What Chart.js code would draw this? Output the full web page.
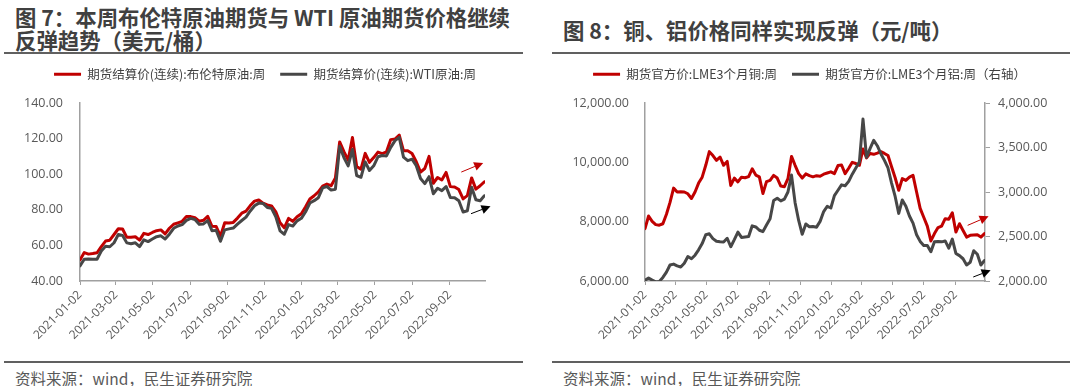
<!DOCTYPE html>
<html><head><meta charset="utf-8">
<script src="https://cdn.jsdelivr.net/npm/chart.js@4.4.1/dist/chart.umd.min.js"></script>
<style>
body{margin:0;width:1080px;height:386px;background:#fff;position:relative;overflow:hidden;font-family:"Noto Sans CJK SC",sans-serif;}
.title{position:absolute;font-weight:bold;font-size:21.4px;line-height:23px;color:#404040;white-space:nowrap;}
.rule{position:absolute;height:2px;background:#606060;}
.src{position:absolute;font-size:15.5px;line-height:22px;color:#595959;white-space:nowrap;}
.cw{position:absolute;top:53px;width:540px;height:300px;}
</style></head><body>
<div class="title" style="left:15px;top:5px">图 7：本周布伦特原油期货与 WTI 原油期货价格继续<br>反弹趋势（美元/桶）</div>
<div class="title" style="left:563px;top:18px">图 8：铜、铝价格同样实现反弹（元/吨）</div>
<div class="rule" style="left:4px;top:52px;width:519px"></div>
<div class="rule" style="left:552px;top:52px;width:518px"></div>
<div class="rule" style="left:4px;top:361px;width:519px"></div>
<div class="rule" style="left:552px;top:361px;width:518px"></div>
<div class="src" style="left:15px;top:367px">资料来源：wind，民生证券研究院</div>
<div class="src" style="left:563px;top:367px">资料来源：wind，民生证券研究院</div>
<div class="cw" style="left:0"><canvas id="c1"></canvas></div>
<div class="cw" style="left:540px"><canvas id="c2"></canvas></div>
<script>
// ---------- data ----------
const startDate = '2021-01-02';
const axisEnd = '2022-10-30';
const tickLabels = ['2021-01-02','2021-03-02','2021-05-02','2021-07-02','2021-09-02','2021-11-02',
  '2022-01-02','2022-03-02','2022-05-02','2022-07-02','2022-09-02'];

const brentLabel = '期货结算价(连续):布伦特原油:周';
const wtiLabel = '期货结算价(连续):WTI原油:周';
const copperLabel = '期货官方价:LME3个月铜:周';
const aluLabel = '期货官方价:LME3个月铝:周（右轴）';

const brent = [51.80,55.99,55.10,55.41,55.88,59.34,62.43,62.91,66.13,69.36,
  69.22,64.53,64.57,64.86,62.95,66.77,66.11,67.25,68.28,68.71,
  66.44,69.63,71.89,72.69,73.51,76.18,76.17,75.55,73.59,74.10,
  76.33,70.70,70.59,65.18,72.70,72.61,72.92,75.34,78.09,79.28,
  82.39,84.86,85.53,83.72,82.74,82.17,78.89,72.72,69.88,75.15,
  73.52,76.14,77.78,81.75,86.06,87.89,90.03,93.27,94.44,93.54,
  97.93,118.11,112.67,107.93,120.65,104.39,102.78,111.70,106.65,109.34,
  112.39,111.55,112.55,119.43,119.72,122.01,113.12,113.12,111.63,107.02,
  101.16,103.20,110.01,94.92,98.15,96.72,100.99,93.02,92.84,91.35,
  86.15,87.96,97.92,91.63,93.50,95.77];
const wti = [48.52,52.24,52.36,52.27,52.20,56.85,59.47,59.24,61.50,66.09,
  65.61,61.42,60.97,61.45,59.32,63.13,62.14,63.58,64.90,65.37,
  63.58,66.32,69.62,70.91,71.64,74.05,75.16,74.56,71.81,72.07,
  73.95,68.28,68.44,62.32,68.74,69.29,69.72,71.97,73.98,75.88,
  79.35,82.28,83.76,83.57,81.27,80.79,76.10,68.15,66.26,71.67,
  70.86,73.79,75.21,78.90,83.82,85.14,86.82,92.31,93.10,91.07,
  91.59,115.68,109.33,104.70,113.90,99.27,98.26,106.95,102.07,104.69,
  109.77,110.49,110.28,115.07,118.87,120.67,109.56,107.62,108.43,104.79,
  97.59,94.70,98.62,89.01,92.09,90.77,93.06,86.87,86.79,85.11,
  78.74,79.49,92.64,85.61,85.05,87.90];
const copper = [7764,8190,8010,7900,7880,7930,8250,8650,9130,9000,
  9010,9000,8940,8780,9000,9300,9500,9900,10360,10230,
  10065,10180,9900,10030,9220,9470,9340,9500,9480,9520,
  9780,9570,9510,8950,9350,9390,9560,9470,9200,9180,
  9450,10200,9900,9620,9470,9610,9550,9510,9550,9530,
  9600,9640,9680,9620,9890,9910,9620,9800,10000,9960,
  9900,10450,10150,10300,10270,10310,10360,10300,10230,9850,
  9480,9060,9450,9390,9500,9560,9000,8450,8150,7850,
  7350,7600,7800,7850,8100,8080,8300,7650,7930,7700,
  7480,7540,7550,7560,7480,7600];
const aluminium = [2008,2034,2010,1990,1995,2040,2100,2180,2190,2170,
  2158,2200,2275,2250,2290,2350,2420,2520,2530,2476,
  2446,2440,2438,2480,2385,2465,2550,2490,2495,2500,
  2620,2607,2570,2555,2630,2700,2905,2930,2900,2920,
  3000,3190,2880,2680,2525,2640,2610,2612,2605,2670,
  2780,2840,2820,2960,3020,3080,3070,3120,3200,3270,
  3340,3820,3390,3490,3580,3520,3430,3355,3270,3100,
  2950,2760,2910,2840,2730,2650,2520,2445,2400,2400,
  2330,2440,2445,2440,2450,2370,2470,2310,2285,2250,
  2180,2210,2340,2300,2180,2230];

// annotation arrows (data units: [day, value])
const oilArrows = [
  {from:[627,101.2], to:[663,106.3], color:'#C00000'},
  {from:[643,77.8], to:[675,82.0], color:'#000000'}];
const metalArrows = [
  {from:[632,7876], to:[673,8180], color:'#C00000'},
  {from:[643,6135], to:[677,6360], color:'#000000'}];

// ---------- helpers ----------
const dayOf = s => Math.round((Date.parse(s) - Date.parse(startDate)) / 86400000);
const tickDays = tickLabels.map(dayOf);
const maxDay = dayOf(axisEnd);
const pts = arr => arr.map((v, i) => ({x: i * 7, y: v}));

const RED = '#C00000', GREY = '#474747', AXIS = '#A0A0A0', TXT = '#595959';
const NUMFONT = '"Open Sans", "Noto Sans", sans-serif';
const CJK = '"Noto Sans CJK SC", sans-serif';

const fmt2 = v => v.toLocaleString('en-US', {minimumFractionDigits: 2, maximumFractionDigits: 2});

function arrowPlugin(arrows, yId) {
  return {
    id: 'arrows',
    afterDatasetsDraw(chart) {
      const {ctx, scales} = chart;
      ctx.save();
      arrows.forEach(a => {
        const x1 = scales.x.getPixelForValue(a.from[0]), y1 = scales[yId].getPixelForValue(a.from[1]);
        const x2 = scales.x.getPixelForValue(a.to[0]), y2 = scales[yId].getPixelForValue(a.to[1]);
        const ang = Math.atan2(y2 - y1, x2 - x1), L = 9, W = 4.5;
        const bx = x2 - L * Math.cos(ang), by = y2 - L * Math.sin(ang);
        ctx.strokeStyle = a.color; ctx.fillStyle = a.color; ctx.lineWidth = 1;
        ctx.beginPath(); ctx.moveTo(x1, y1); ctx.lineTo(bx, by); ctx.stroke();
        ctx.beginPath(); ctx.moveTo(x2, y2);
        ctx.lineTo(bx + W * Math.sin(ang), by - W * Math.cos(ang));
        ctx.lineTo(bx - W * Math.sin(ang), by + W * Math.cos(ang));
        ctx.closePath(); ctx.fill();
      });
      ctx.restore();
    }
  };
}
const legendSpacer = extra => ({
  id: 'legendSpacer',
  beforeInit(chart) {
    const orig = chart.legend.fit;
    chart.legend.fit = function () { orig.bind(chart.legend)(); this.height += extra; };
  }
});

function xAxis() {
  return {
    type: 'linear', min: 0, max: maxDay,
    afterBuildTicks: s => { s.ticks = tickDays.map(v => ({value: v})); },
    afterFit: s => { s.height = 72; },
    grid: {display: true, drawOnChartArea: false, drawTicks: true, tickLength: 4, color: AXIS, lineWidth: 1},
    border: {display: true, color: AXIS, width: 1.5},
    ticks: {autoSkip: false, minRotation: 45, maxRotation: 45, padding: 3, color: TXT,
      font: {family: NUMFONT, size: 12}, callback: (v, i) => tickLabels[i]}
  };
}
function legendOpts() {
  return {
    position: 'top',
    labels: {
      boxWidth: 27, boxHeight: 3, padding: 15, color: '#404040',
      font: {family: CJK, size: 12.5},
      generateLabels: chart => chart.data.datasets.map((d, i) => ({
        text: d.label, fillStyle: d.borderColor, strokeStyle: d.borderColor,
        lineWidth: 0, hidden: false, datasetIndex: i, fontColor: '#404040'}))
    }
  };
}
const lineDs = (label, data, color, extra) => Object.assign({
  label, data: pts(data), borderColor: color, backgroundColor: color, borderWidth: 3,
  pointRadius: 0, fill: false, tension: 0, borderJoinStyle: 'round', borderCapStyle: 'round'
}, extra || {});

// ---------- chart 1 ----------
new Chart(document.getElementById('c1'), {
  type: 'line',
  data: {datasets: [
    lineDs(brentLabel, brent, RED, {order: 1}),
    lineDs(wtiLabel, wti, GREY, {order: 0})
  ]},
  options: {
    responsive: true, maintainAspectRatio: false, animation: false,
    layout: {padding: {top: 0, left: 0, right: 10, bottom: 0}},
    plugins: {legend: legendOpts(), tooltip: {enabled: false}},
    scales: {
      x: xAxis(),
      y: {min: 40, max: 140, afterFit: s => { s.width = 80; },
        grid: {display: false, drawTicks: false}, border: {display: true, color: AXIS, width: 1.5},
        ticks: {stepSize: 20, padding: 17, color: TXT, font: {family: NUMFONT, size: 12.5}, callback: v => fmt2(v)}},
      yR: {position: 'right', display: true, afterFit: s => { s.width = 45; },
        grid: {display: false, drawTicks: false}, border: {display: false}, ticks: {display: false}}
    }
  },
  plugins: [legendSpacer(12.5), arrowPlugin(oilArrows, 'y')]
});

// ---------- chart 2 ----------
new Chart(document.getElementById('c2'), {
  type: 'line',
  data: {datasets: [
    lineDs(copperLabel, copper, RED, {order: 1, yAxisID: 'y'}),
    lineDs(aluLabel, aluminium, GREY, {order: 0, yAxisID: 'y1'})
  ]},
  options: {
    responsive: true, maintainAspectRatio: false, animation: false,
    layout: {padding: {top: 0, left: 0, right: 1, bottom: 0}},
    plugins: {legend: legendOpts(), tooltip: {enabled: false}},
    scales: {
      x: xAxis(),
      y: {min: 6000, max: 12000, afterFit: s => { s.width = 105; },
        grid: {display: false, drawTicks: false}, border: {display: true, color: AXIS, width: 1.5},
        ticks: {stepSize: 2000, padding: 16, color: TXT, font: {family: NUMFONT, size: 12.5}, callback: v => fmt2(v)}},
      y1: {position: 'right', min: 2000, max: 4000, afterFit: s => { s.width = 94; },
        grid: {display: true, drawOnChartArea: false, drawTicks: true, tickLength: 5, color: AXIS},
        border: {display: true, color: AXIS, width: 1.5},
        ticks: {stepSize: 500, padding: 8, color: TXT, font: {family: NUMFONT, size: 12.5}, callback: v => fmt2(v)}}
    }
  },
  plugins: [legendSpacer(12.5), arrowPlugin(metalArrows, 'y')]
});
</script>
</body></html>
